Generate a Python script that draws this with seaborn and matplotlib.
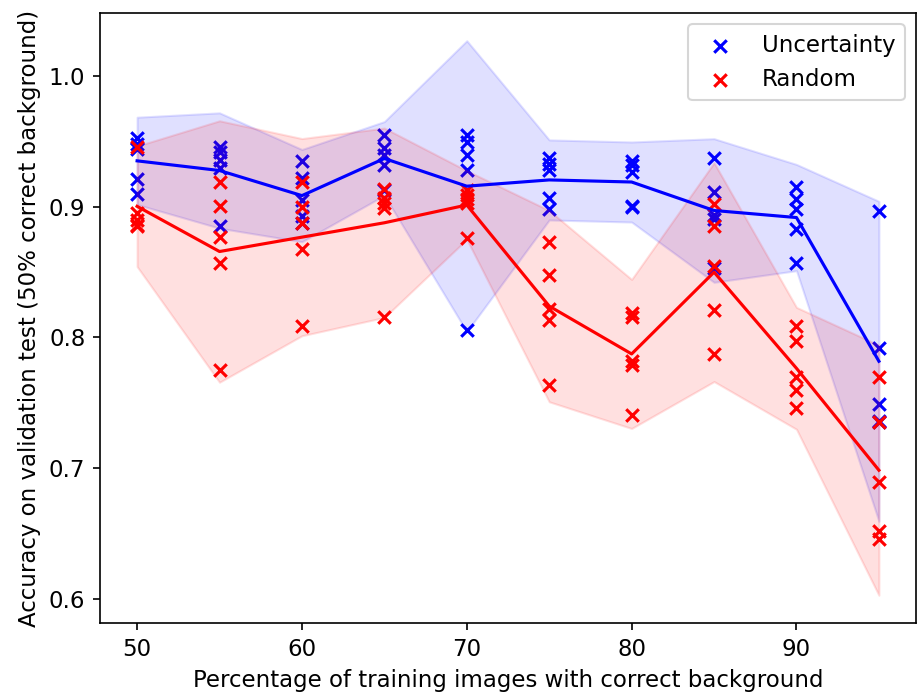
import numpy as np
import pandas as pd
import matplotlib
matplotlib.use("Agg")
import matplotlib.pyplot as plt
import seaborn as sns

# Share of training images with the correct background (%)
pct = [50, 55, 60, 65, 70, 75, 80, 85, 90, 95]

# Validation accuracy of five runs per setting
uncertainty = [
    [0.953, 0.948, 0.944, 0.921, 0.910],
    [0.946, 0.942, 0.936, 0.930, 0.885],
    [0.935, 0.922, 0.905, 0.893, 0.888],
    [0.955, 0.945, 0.940, 0.932, 0.913],
    [0.955, 0.950, 0.940, 0.928, 0.806],
    [0.937, 0.933, 0.928, 0.907, 0.898],
    [0.935, 0.932, 0.927, 0.901, 0.900],
    [0.937, 0.911, 0.894, 0.891, 0.853],
    [0.915, 0.906, 0.898, 0.883, 0.857],
    [0.897, 0.792, 0.749, 0.736, 0.735],
]
random_sel = [
    [0.946, 0.895, 0.890, 0.886, 0.885],
    [0.919, 0.901, 0.877, 0.857, 0.775],
    [0.919, 0.900, 0.888, 0.868, 0.809],
    [0.914, 0.907, 0.903, 0.899, 0.816],
    [0.913, 0.909, 0.906, 0.903, 0.876],
    [0.873, 0.848, 0.822, 0.813, 0.764],
    [0.819, 0.816, 0.782, 0.779, 0.741],
    [0.902, 0.885, 0.855, 0.821, 0.787],
    [0.809, 0.797, 0.770, 0.760, 0.746],
    [0.770, 0.735, 0.689, 0.652, 0.646],
]

series_names = ["Uncertainty", "Random"]
series_colors = ["blue", "red"]

plt.rcParams["font.size"] = 11


def to_frame(values):
    rows = [(p, a) for p, accs in zip(pct, values) for a in accs]
    return pd.DataFrame(rows, columns=["pct", "acc"])


def two_sd(v):
    m = np.mean(v)
    s = np.std(v)
    return m - 2 * s, m + 2 * s


fig = plt.figure(figsize=(917 / 150, 698 / 150), dpi=150)
ax = fig.add_axes([100 / 917, 1 - 623 / 698, 816 / 917, 610 / 698])

for values, name, color in zip([uncertainty, random_sel], series_names, series_colors):
    df = to_frame(values)
    sns.lineplot(data=df, x="pct", y="acc", color=color, errorbar=two_sd,
                 err_kws={"alpha": 0.12, "linewidth": 1}, legend=False, ax=ax)
    sns.scatterplot(data=df, x="pct", y="acc", color=color, marker="x",
                    s=36, linewidth=1.5, label=name, ax=ax)

ax.set_xlabel("Percentage of training images with correct background")
ax.set_ylabel("Accuracy on validation test (50% correct background)")
ax.set_yticks([0.6, 0.7, 0.8, 0.9, 1.0])
ax.legend(loc="upper right")

fig.savefig("out.png", dpi=150)
